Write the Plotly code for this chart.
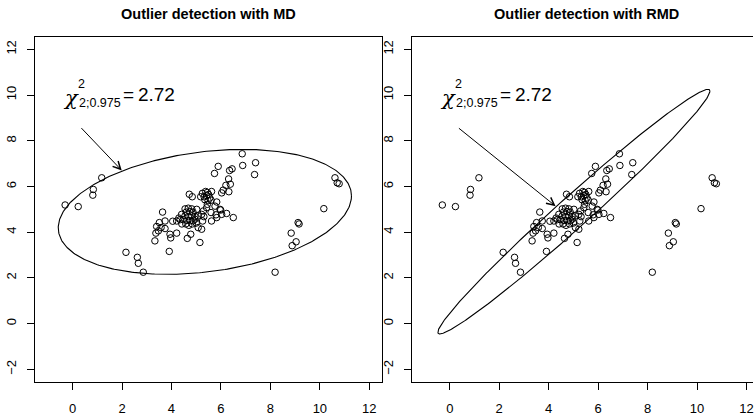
import numpy as np
import plotly.graph_objects as go

# ---------------- data ----------------
x_vals = [
    -0.30, 0.23, 0.84, 0.82, 1.18,
    2.16, 2.62, 2.66, 2.86, 3.33, 3.91,
    8.19, 8.84, 8.88, 9.04, 9.12, 9.16, 10.16, 10.61, 10.70, 10.78,
    6.86, 6.88, 7.40, 7.36, 5.89, 5.74, 6.35, 6.45, 6.31, 6.38, 6.20, 6.32, 6.09, 6.03,
    4.72, 4.84,
    5.83, 5.76, 5.96, 6.23, 6.50, 5.99, 6.03, 5.60, 5.80, 5.83, 5.62,
    5.42, 5.45, 5.29, 5.22, 5.31, 5.26, 5.02, 5.08, 4.95,
    5.25, 5.38, 5.45, 5.50, 5.32, 5.42, 5.55, 5.35, 5.48, 5.60, 5.18, 5.62,
    4.55, 4.68, 4.82, 4.60, 4.74, 4.87, 4.41, 4.55, 4.68, 4.82, 4.95,
    4.48, 4.62, 4.75, 4.88, 4.35, 4.30, 4.42, 4.58, 4.70, 4.84, 5.00,
    4.05, 4.21, 3.64, 3.74, 3.51, 3.40, 3.58, 3.74, 3.47, 3.37, 3.94, 3.97,
    4.21, 4.64, 4.78, 5.15, 5.08, 5.22,
]
y_vals = [
    5.19, 5.12, 5.87, 5.62, 6.38,
    3.12, 2.90, 2.64, 2.25, 3.62, 3.16,
    2.25, 3.96, 3.41, 3.58, 4.42, 4.36, 5.03, 6.38, 6.16, 6.12,
    7.43, 6.92, 7.04, 6.52, 6.88, 6.57, 6.70, 6.77, 6.33, 6.10, 6.05, 5.77, 5.84, 5.72,
    5.66, 5.55,
    5.32, 5.14, 5.00, 4.82, 4.64, 4.97, 4.78, 4.86, 4.76, 4.64, 4.49,
    5.07, 5.22, 4.93, 4.78, 4.68, 4.49, 5.00, 4.71, 4.57,
    5.70, 5.78, 5.74, 5.65, 5.55, 5.60, 5.50, 5.42, 5.38, 5.40, 5.55, 5.78,
    5.02, 5.05, 5.02, 4.88, 4.90, 4.88, 4.78, 4.72, 4.68, 4.72, 4.68,
    4.55, 4.52, 4.50, 4.50, 4.55, 4.62, 4.36, 4.36, 4.30, 4.36, 4.40,
    4.48, 4.49, 4.88, 4.49, 4.42, 4.25, 4.20, 4.16, 4.06, 3.96, 3.91, 3.75,
    3.96, 3.73, 3.91, 3.55, 4.20, 4.13,
]

x_ticks = [0, 2, 4, 6, 8, 10, 12]
y_ticks = [-2, 0, 2, 4, 6, 8, 10, 12]

titles = ["Outlier detection with MD", "Outlier detection with RMD"]
formula_parts = ["χ", "2", "2;0.975", "=\u20092.72"]

# ellipse parameters (classical and robust)
md_center = [5.35, 4.89]
md_cov = [[4.75, 0.56], [0.56, 1.01]]
rmd_center = [5.02, 4.90]
rmd_cov = [[4.09, 3.92], [3.92, 3.87]]
chi_radius = 2.72

label_xy = [2.0, 10.0]
md_arrow = [0.30, 8.62, 1.99, 6.70]   # tail x, tail y, head x, head y
rmd_arrow = [0.31, 8.60, 4.28, 5.14]

# ---------------- figure ----------------
W, H = 754, 416
FONT = "Liberation Sans"


def ellipse(center, cov, r, n=400):
    t = np.linspace(0, 2 * np.pi, n)
    L = np.linalg.cholesky(np.array(cov))
    pts = L @ np.vstack([np.cos(t), np.sin(t)]) * r
    return pts[0] + center[0], pts[1] + center[1]


fig = go.Figure()

panels = [
    ("x", "y", md_center, md_cov, md_arrow),
    ("x2", "y2", rmd_center, rmd_cov, rmd_arrow),
]

# style of each formula piece: (font family, size, style, xshift, yshift)
piece_styles = [
    ("DejaVu Serif", 21, "italic", -51.5, -3),
    (FONT, 12.5, "normal", -40.5, 11),
    (FONT, 12.5, "normal", -22.5, -8),
    (FONT, 19, "normal", 26.6, 1),
]

annotations = []
for i, (xr, yr, c, cov, arr) in enumerate(panels):
    ex, ey = ellipse(c, cov, chi_radius)
    fig.add_trace(go.Scatter(x=ex, y=ey, mode="lines", xaxis=xr, yaxis=yr,
                             line=dict(color="black", width=1.1),
                             hoverinfo="skip", showlegend=False))
    fig.add_trace(go.Scatter(x=x_vals, y=y_vals, mode="markers", xaxis=xr, yaxis=yr,
                             marker=dict(symbol="circle-open", size=6.5, color="black",
                                         line=dict(width=1, color="black")),
                             showlegend=False))
    # arrow
    annotations.append(dict(x=arr[2], y=arr[3], ax=arr[0], ay=arr[1],
                            xref=xr, yref=yr, axref=xr, ayref=yr, text="",
                            showarrow=True, arrowhead=5, arrowsize=1.5,
                            arrowwidth=1, arrowcolor="black", standoff=0))
    # formula pieces
    for txt, (fam, sz, sty, dx, dy) in zip(formula_parts, piece_styles):
        annotations.append(dict(x=label_xy[0], y=label_xy[1], xref=xr, yref=yr,
                                text=txt, showarrow=False,
                                xanchor="center", yanchor="middle",
                                xshift=dx, yshift=dy,
                                font=dict(family=fam, size=sz, style=sty,
                                          color="black")))

# titles
for dom_c, t in zip([(35 + 382.7) / 2 / W, (412.7 + 761) / 2 / W], titles):
    annotations.append(dict(x=dom_c, y=1 - 14 / H, xref="paper", yref="paper",
                            text="<b>" + t + "</b>", showarrow=False,
                            xanchor="center", yanchor="middle",
                            font=dict(family=FONT, size=14.5, color="black")))

px_per_unit = (382.7 - 35) / (12.52 + 1.52)
x2_end = -1.52 + (W - 412.7) / px_per_unit

axis_common = dict(showgrid=False, zeroline=False, showline=True, linecolor="black",
                   linewidth=1, ticks="outside", ticklen=7, tickwidth=1,
                   tickcolor="black", ticklabeloverflow="allow",
                   tickfont=dict(family=FONT, size=13, color="black"))

fig.update_layout(
    width=W, height=H,
    margin=dict(l=0, r=0, t=0, b=0),
    paper_bgcolor="white", plot_bgcolor="white",
    showlegend=False,
    xaxis=dict(domain=[35 / W, 382.7 / W], range=[-1.52, 12.52], tickvals=x_ticks,
               mirror=True, anchor="y", ticklabelstandoff=7, **axis_common),
    yaxis=dict(domain=[32 / H, (H - 36.7) / H], range=[-2.56, 12.56], tickvals=y_ticks,
               mirror=True, anchor="x", tickangle=-90, ticklabelstandoff=6, **axis_common),
    xaxis2=dict(domain=[412.7 / W, 1], range=[-1.52, x2_end], tickvals=x_ticks,
                mirror=True, anchor="y2", ticklabelstandoff=7, **axis_common),
    yaxis2=dict(domain=[32 / H, (H - 36.7) / H], range=[-2.56, 12.56], tickvals=y_ticks,
                mirror=False, anchor="x2", tickangle=-90, ticklabelstandoff=6, **axis_common),
    annotations=annotations,
)

fig.write_html("out.html")
